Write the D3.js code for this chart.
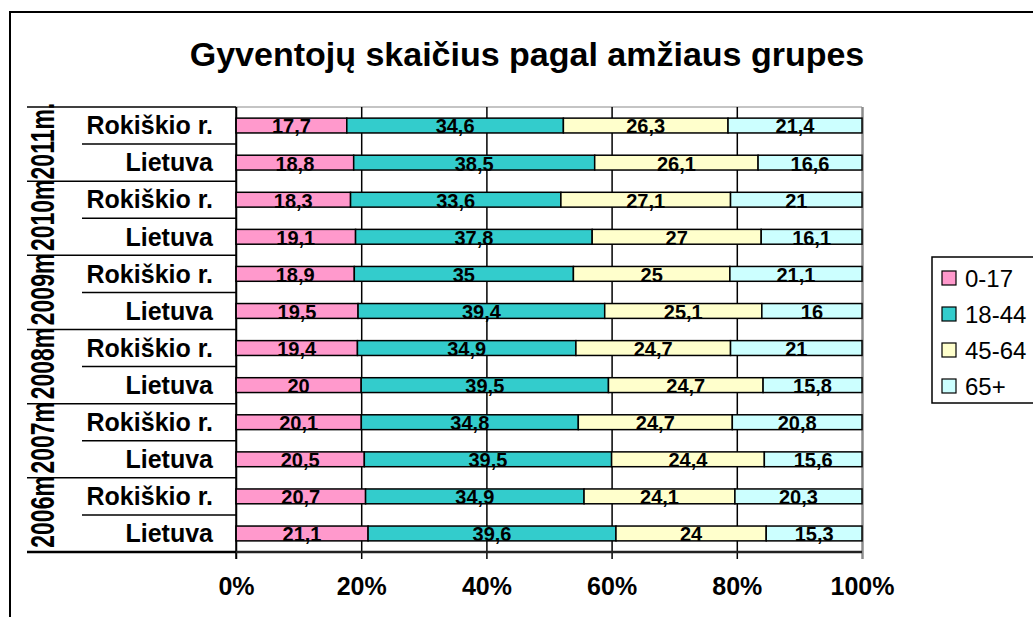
<!DOCTYPE html>
<html>
<head>
<meta charset="utf-8">
<script src="https://cdn.jsdelivr.net/npm/d3@7"></script>
<style>
  html, body { margin: 0; padding: 0; background: #fff; }
  svg { display: block; font-family: "Liberation Sans", Arial, sans-serif; }
</style>
</head>
<body>
<svg id="chart" width="1033" height="617"></svg>
<script>
// ---- data ----
const title = "Gyventojų skaičius pagal amžiaus grupes";
const years = ["2011m.", "2010m", "2009m", "2008m", "2007m", "2006m"];
const regions = ["Rokiškio r.", "Lietuva"];
const seriesNames = ["0-17", "18-44", "45-64", "65+"];
const seriesColors = ["#FF99CC", "#33CCCC", "#FFFFCC", "#CCFFFF"];
const xTicks = [0, 0.2, 0.4, 0.6, 0.8, 1];
// rows top to bottom (year, region)
const v0_17  = [17.7, 18.8, 18.3, 19.1, 18.9, 19.5, 19.4, 20.0, 20.1, 20.5, 20.7, 21.1];
const v18_44 = [34.6, 38.5, 33.6, 37.8, 35.0, 39.4, 34.9, 39.5, 34.8, 39.5, 34.9, 39.6];
const v45_64 = [26.3, 26.1, 27.1, 27.0, 25.0, 25.1, 24.7, 24.7, 24.7, 24.4, 24.1, 24.0];
const v65    = [21.4, 16.6, 21.0, 16.1, 21.1, 16.0, 21.0, 15.8, 20.8, 15.6, 20.3, 15.3];

const seriesValues = [v0_17, v18_44, v45_64, v65];
const rows = [];
years.forEach((yr, yi) => regions.forEach((r, ri) => {
  const idx = yi * 2 + ri;
  const o = { id: idx, year: yr, region: r };
  seriesNames.forEach((s, si) => o[s] = seriesValues[si][idx]);
  rows.push(o);
}));

// ---- layout ----
const svg = d3.select("#chart");
const pL = 236, pR = 862, pT = 107, pB = 552;

const x = d3.scaleLinear().domain([0, 1]).range([pL, pR]);
const y = d3.scaleBand().domain(rows.map(d => d.id)).range([pT, pB])
  .paddingInner(0.6).paddingOuter(0.3);

const stack = d3.stack().keys(seriesNames).offset(d3.stackOffsetExpand);
const stacked = stack(rows);

// outer border (chart area)
svg.append("path").attr("d", "M10,617 L10,12 L1033,12")
  .attr("fill", "none").attr("stroke", "#000").attr("stroke-width", 2);

// title
svg.append("text").attr("x", 527).attr("y", 66).attr("text-anchor", "middle")
  .attr("font-size", 34).attr("font-weight", "bold").text(title);

// plot top border
svg.append("line").attr("x1", pL).attr("x2", pR).attr("y1", pT).attr("y2", pT)
  .attr("stroke", "#b0b0b0").attr("stroke-width", 1.5);

// gridlines + bottom ticks
const grid = svg.append("g").attr("transform", `translate(0,${pB + 7})`)
  .call(d3.axisBottom(x).tickValues(xTicks).tickSize(-(pB + 7 - pT)).tickFormat(""));
grid.select(".domain").remove();
grid.selectAll(".tick line")
  .attr("stroke", (d) => d === 1 ? "#8c8c8c" : "#000")
  .attr("stroke-width", (d) => d === 1 ? 2.5 : 1.5);

// bars
const layer = svg.append("g").selectAll("g").data(stacked).join("g")
  .attr("fill", (d, i) => seriesColors[i]);
layer.selectAll("rect").data(d => d.map(p => ({ p, key: d.key }))).join("rect")
  .attr("x", d => x(d.p[0]))
  .attr("width", d => x(d.p[1]) - x(d.p[0]))
  .attr("y", d => y(d.p.data.id))
  .attr("height", y.bandwidth())
  .attr("stroke", "#000").attr("stroke-width", 1.5);

// data labels
const fmt = v => String(v).replace(".", ",");
layer.selectAll("text").data(d => d.map(p => ({ p, key: d.key }))).join("text")
  .attr("x", d => (x(d.p[0]) + x(d.p[1])) / 2)
  .attr("y", d => y(d.p.data.id) + y.bandwidth() + 0.5)
  .attr("text-anchor", "middle").attr("fill", "#000")
  .attr("font-size", 20).attr("font-weight", "bold")
  .text(d => fmt(d.p.data[d.key]));

// left axis line
svg.append("line").attr("x1", pL).attr("x2", pL).attr("y1", pT).attr("y2", pB + 7)
  .attr("stroke", "#000").attr("stroke-width", 1.5);

// category separators
const step = y.step();
for (let k = 0; k <= rows.length; k++) {
  const yy = pT + k * step;
  const isYear = k % 2 === 0;
  svg.append("line").attr("x1", isYear ? 27 : 82).attr("x2", pL)
    .attr("y1", yy).attr("y2", yy)
    .attr("stroke", "#000").attr("stroke-width", k === rows.length ? 2.5 : 1.5);
}
// bottom axis line
svg.append("line").attr("x1", pL).attr("x2", pR).attr("y1", pB).attr("y2", pB)
  .attr("stroke", "#222").attr("stroke-width", 2.5);

// category labels
const yAxis = svg.append("g").attr("transform", `translate(${pL},0)`)
  .call(d3.axisLeft(y).tickSize(0).tickPadding(23).tickFormat(id => rows[id].region));
yAxis.select(".domain").remove();
yAxis.selectAll("text").attr("font-size", 25).attr("font-weight", "bold")
  .attr("fill", "#000").attr("font-family", "Liberation Sans, Arial, sans-serif")
  .attr("dy", "0.35em");

// year labels (rotated)
years.forEach((yr, yi) => {
  const cy = pT + (yi * 2 + 1) * step;
  svg.append("text")
    .attr("transform", `translate(54,${cy - 3}) rotate(-90) scale(1,1.45)`)
    .attr("text-anchor", "middle").attr("font-size", 23).attr("font-weight", "bold")
    .text(yr);
});

// x tick labels
const xAxis = svg.append("g").attr("transform", `translate(0,${pB})`)
  .call(d3.axisBottom(x).tickValues(xTicks).tickSize(0).tickPadding(0)
    .tickFormat(d3.format(".0%")));
xAxis.select(".domain").remove();
xAxis.selectAll("text").attr("y", 43).attr("dy", 0)
  .attr("font-size", 25).attr("font-weight", "bold").attr("fill", "#000")
  .attr("font-family", "Liberation Sans, Arial, sans-serif");

// legend
const lg = svg.append("g");
lg.append("rect").attr("x", 932).attr("y", 257).attr("width", 120).attr("height", 146)
  .attr("fill", "#fff").attr("stroke", "#000").attr("stroke-width", 1.5);
seriesNames.forEach((s, i) => {
  const cy = 278 + i * 36;
  lg.append("rect").attr("x", 942).attr("y", cy - 7).attr("width", 14).attr("height", 14)
    .attr("fill", seriesColors[i]).attr("stroke", "#000").attr("stroke-width", 1.2);
  lg.append("text").attr("x", 965).attr("y", cy).attr("dy", "0.36em")
    .attr("font-size", 24).text(s);
});
</script>
</body>
</html>
